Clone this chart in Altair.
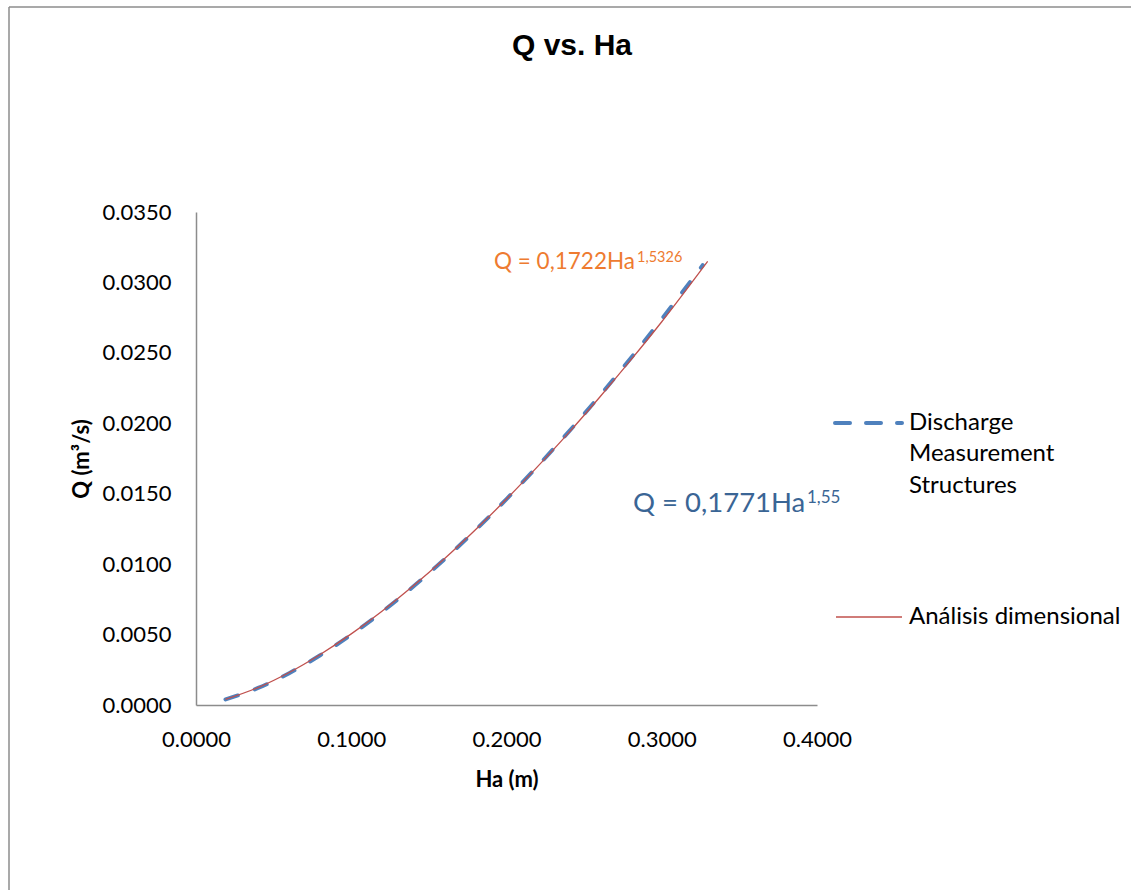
import altair as alt
import pandas as pd

# ---- data ----
ha_meas = [0.019, 0.04, 0.06, 0.08, 0.10, 0.12, 0.14, 0.16, 0.18, 0.20, 0.22, 0.24, 0.26, 0.28, 0.30, 0.3264]
q_meas = [0.00039, 0.00121, 0.00226, 0.00353, 0.00499, 0.00662, 0.00841, 0.01034, 0.01241, 0.01462,
          0.01695, 0.01939, 0.02195, 0.02462, 0.02740, 0.03123]
ha_dim = [0.019, 0.04, 0.06, 0.08, 0.10, 0.12, 0.14, 0.16, 0.18, 0.20, 0.22, 0.24, 0.26, 0.28, 0.30, 0.3296]
q_dim = [0.00040, 0.00124, 0.00231, 0.00359, 0.00505, 0.00668, 0.00846, 0.01038, 0.01244, 0.01462,
         0.01692, 0.01932, 0.02185, 0.02448, 0.02721, 0.03150]
x_ticks = [0.0, 0.1, 0.2, 0.3, 0.4]
y_ticks = [0.0, 0.005, 0.010, 0.015, 0.020, 0.025, 0.030, 0.035]
series_names = ["Discharge Measurement Structures", "Análisis dimensional"]

df_meas = pd.DataFrame({"Ha": ha_meas, "Q": q_meas, "serie": series_names[0]})
df_dim = pd.DataFrame({"Ha": ha_dim, "Q": q_dim, "serie": series_names[1]})
one = pd.DataFrame({"k": [0]})

FONT = "Lato"
BLUE = "#4F81BD"
RED = "#C0504D"
GRAY = "#8C8C8C"
W, H = 621, 493
PADL, PADT = 196, 212

x_enc = alt.X("Ha:Q", scale=alt.Scale(domain=[0, 0.4], nice=False, zero=False),
              axis=alt.Axis(values=x_ticks, format=".4f", title="Ha (m)", grid=False, ticks=False,
                            tickSize=0, labelPadding=24, labelFont=FONT, labelFontSize=22,
                            labelColor="#000000", domainColor=GRAY, domainWidth=1.5,
                            titleFont=FONT, titleFontSize=22, titleFontWeight="bold",
                            titleColor="#000000", titleX=W / 2, titleY=81,
                            titleBaseline="alphabetic", titleAlign="center",
                            labelFlush=False, labelOverlap=False))
y_enc = alt.Y("Q:Q", scale=alt.Scale(domain=[0, 0.035], nice=False, zero=False),
              axis=alt.Axis(values=y_ticks, format=".4f", title="Q (m³/s)", grid=False, ticks=False,
                            tickSize=0, labelPadding=25, labelFont=FONT, labelFontSize=22,
                            labelColor="#000000", domainColor=GRAY, domainWidth=1.5,
                            titleFont=FONT, titleFontSize=22, titleFontWeight="bold",
                            titleColor="#000000", titleX=-108, titleY=H / 2,
                            titleBaseline="alphabetic", titleAlign="center",
                            labelFlush=False, labelOverlap=False))

meas = alt.Chart(df_meas).mark_line(color=BLUE, strokeWidth=4, strokeDash=[13, 18],
                                    strokeCap="round", interpolate="monotone").encode(x=x_enc, y=y_enc)
dim = alt.Chart(df_dim).mark_line(color=RED, strokeWidth=1.3, interpolate="monotone").encode(x=x_enc, y=y_enc)


def txt(text, x, y, size, color="#000000", font=FONT, weight="normal", align="left"):
    return alt.Chart(one).mark_text(text=text, font=font, fontSize=size, fontWeight=weight,
                                    color=color, align=align, baseline="alphabetic").encode(
        x=alt.value(x), y=alt.value(y))


# frame (outer chart border; only top and left edges are in view)
frame_top = alt.Chart(one).mark_rule(color=GRAY, strokeWidth=1.5).encode(
    x=alt.value(9 - PADL), x2=alt.value(1200 - PADL), y=alt.value(7 - PADT))
frame_left = alt.Chart(one).mark_rule(color=GRAY, strokeWidth=1.5).encode(
    x=alt.value(9 - PADL), y=alt.value(7 - PADT), y2=alt.value(950 - PADT))

title = txt("Q vs. Ha", 572 - PADL, 55 - PADT, 30, font="Liberation Sans", weight="bold", align="center")

# trendline equations
ORANGE = "#EE7B30"
DBLUE = "#3A6595"
eq1 = txt("Q = 0,1722Ha", 494 - PADL, 269 - PADT, 22.5, color=ORANGE)
eq1s = txt("1,5326", 637 - PADL, 262 - PADT, 14.5, color=ORANGE)
eq2 = txt("Q = 0,1771Ha", 633 - PADL, 512 - PADT, 27.5, color=DBLUE)
eq2s = txt("1,55", 807 - PADL, 503 - PADT, 17, color=DBLUE)

# legend
LEG = 24
leg_dash = alt.Chart(one).mark_rule(color=BLUE, strokeWidth=4, strokeDash=[15, 16], strokeCap="round").encode(
    x=alt.value(835 - PADL), x2=alt.value(902 - PADL), y=alt.value(423 - PADT))
leg_line = alt.Chart(one).mark_rule(color=RED, strokeWidth=1.3).encode(
    x=alt.value(836 - PADL), x2=alt.value(902 - PADL), y=alt.value(617 - PADT))
l1 = txt("Discharge", 909 - PADL, 430 - PADT, LEG)
l2 = txt("Measurement", 909 - PADL, 461 - PADT, LEG)
l3 = txt("Structures", 909 - PADL, 493 - PADT, LEG)
l4 = txt("Análisis dimensional", 909 - PADL, 624 - PADT, LEG)

chart = alt.layer(
    frame_top, frame_left, meas, dim, title, eq1, eq1s, eq2, eq2s, leg_dash, leg_line, l1, l2, l3, l4
).properties(
    width=W, height=H,
    autosize=alt.AutoSizeParams(type="none"),
    padding={"left": PADL, "top": PADT, "right": 1131 - PADL - W, "bottom": 890 - PADT - H},
    background="#FFFFFF",
).configure_view(stroke=None)

chart.save("out.html", embed_options={"renderer": "svg", "actions": False})
